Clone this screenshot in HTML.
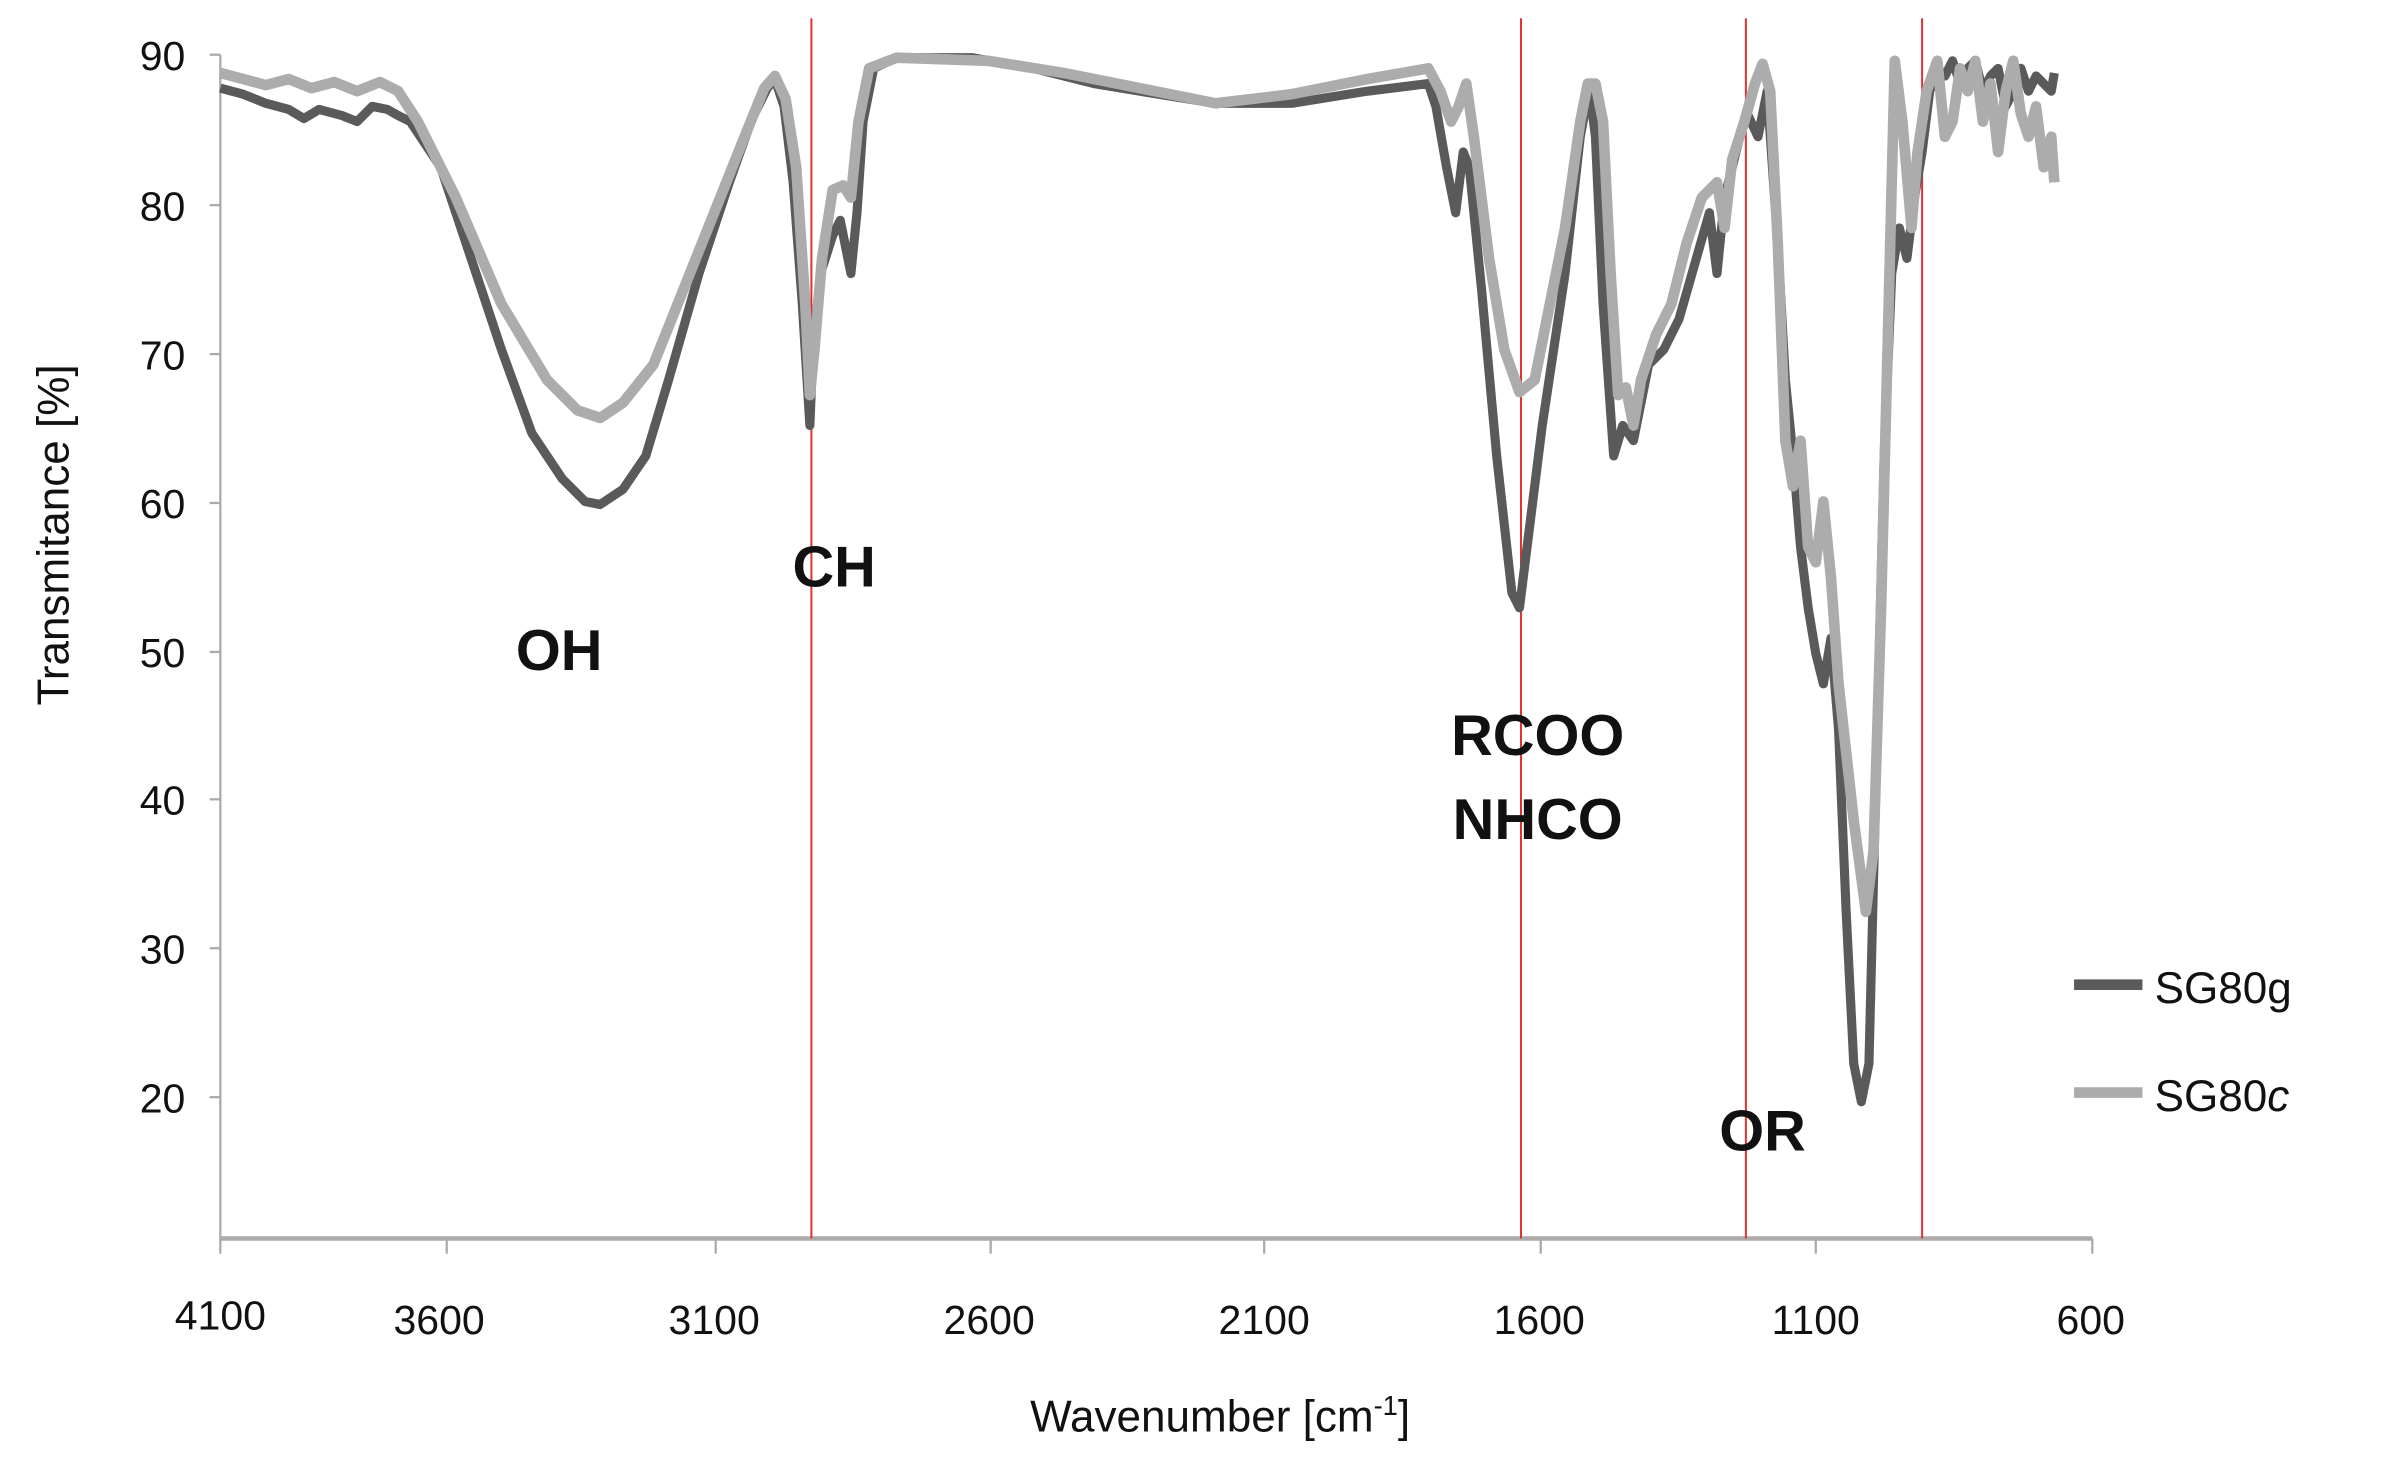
<!DOCTYPE html>
<html><head><meta charset="utf-8"><style>
html,body{margin:0;padding:0;background:#fff}
svg{display:block}
text{font-family:"Liberation Sans",sans-serif;fill:#111}
</style></head><body>
<svg width="2381" height="1471" viewBox="0 0 1567 968" preserveAspectRatio="none">
<rect width="1567" height="968" fill="#fff"/>
<!-- axes -->
<line x1="145" y1="36" x2="145" y2="815" stroke="#aaa" stroke-width="1.5"/>
<line x1="145" y1="815" x2="1377" y2="815" stroke="#aaa" stroke-width="3"/>
<g stroke="#aaa" stroke-width="1.5">
<line x1="138" y1="36" x2="145" y2="36"/><line x1="138" y1="135" x2="145" y2="135"/>
<line x1="138" y1="233" x2="145" y2="233"/><line x1="138" y1="331" x2="145" y2="331"/>
<line x1="138" y1="429" x2="145" y2="429"/><line x1="138" y1="526" x2="145" y2="526"/>
<line x1="138" y1="624" x2="145" y2="624"/><line x1="138" y1="722" x2="145" y2="722"/>
<line x1="145" y1="815" x2="145" y2="825"/><line x1="294" y1="815" x2="294" y2="825"/>
<line x1="471" y1="815" x2="471" y2="825"/><line x1="652" y1="815" x2="652" y2="825"/>
<line x1="832" y1="815" x2="832" y2="825"/><line x1="1014" y1="815" x2="1014" y2="825"/>
<line x1="1195" y1="815" x2="1195" y2="825"/><line x1="1377" y1="815" x2="1377" y2="825"/>
</g>
<g font-size="27" text-anchor="end">
<text x="122" y="46">90</text><text x="122" y="145">80</text><text x="122" y="243">70</text>
<text x="122" y="341">60</text><text x="122" y="439">50</text><text x="122" y="536">40</text>
<text x="122" y="634">30</text><text x="122" y="732">20</text>
</g>
<g font-size="27" text-anchor="middle">
<text x="145" y="875">4100</text><text x="289" y="878">3600</text><text x="470" y="878">3100</text>
<text x="651" y="878">2600</text><text x="832" y="878">2100</text><text x="1013" y="878">1600</text>
<text x="1195" y="878">1100</text><text x="1376" y="878">600</text>
</g>
<text x="803" y="942" font-size="29" text-anchor="middle">Wavenumber [cm<tspan font-size="18" dy="-11">-1</tspan><tspan dy="11">]</tspan></text>
<text transform="translate(45,352) rotate(-90)" font-size="29" text-anchor="middle">Transmitance [%]</text>
<!-- red lines -->
<g stroke="#e03030" stroke-width="1.3">
<line x1="534" y1="12" x2="534" y2="815"/><line x1="1001" y1="12" x2="1001" y2="815"/>
<line x1="1149" y1="12" x2="1149" y2="815"/><line x1="1265" y1="12" x2="1265" y2="815"/>
</g>
<!-- dark series -->
<polyline fill="none" stroke="#5a5a5a" stroke-width="6" stroke-linejoin="round" points="145,58 160,62 175,68 190,72 200,78 210,72 225,76 235,80 245,70 255,72 262,76 270,80 290,110 310,170 330,230 350,285 370,315 385,330 395,332 410,322 425,300 440,250 460,180 480,120 495,78 505,58 510,52 516,70 522,120 528,200 533,280 535,230 540,180 548,155 553,145 558,170 560,180 564,140 568,80 575,45 590,38 640,38 680,45 720,55 750,60 800,68 850,68 900,60 940,55 945,70 952,110 958,140 963,100 967,110 975,190 985,300 995,390 1000,400 1005,360 1015,280 1030,180 1040,90 1046,58 1050,90 1055,200 1062,300 1068,280 1075,290 1085,240 1095,230 1105,210 1115,175 1125,140 1130,180 1135,130 1145,90 1150,75 1157,90 1163,60 1170,160 1175,250 1180,300 1185,360 1190,400 1195,430 1200,450 1205,420 1210,480 1215,600 1220,700 1225,725 1230,700 1235,500 1240,300 1245,180 1250,150 1255,170 1260,130 1265,100 1270,60 1275,45 1280,50 1285,40 1290,55 1295,45 1300,40 1305,60 1310,50 1315,45 1320,70 1325,60 1330,45 1335,60 1340,50 1345,55 1350,60 1352,48"/>
<!-- light series -->
<polyline fill="none" stroke="#acacac" stroke-width="7" stroke-linejoin="round" points="145,48 160,52 175,56 190,52 205,58 220,54 235,60 250,54 262,60 275,80 300,130 330,200 360,250 380,270 395,275 410,265 430,240 450,190 470,140 490,90 503,58 510,50 517,65 524,110 530,200 533,260 536,230 541,170 548,125 555,122 560,130 565,80 572,45 590,38 650,40 700,48 750,58 800,68 850,62 900,52 940,45 948,60 955,80 960,70 965,55 970,90 980,170 990,230 1000,258 1010,250 1020,200 1030,150 1040,80 1045,55 1050,55 1055,80 1060,180 1065,260 1070,255 1075,280 1080,250 1090,220 1100,200 1110,160 1120,130 1130,120 1135,150 1140,105 1148,80 1155,55 1160,42 1165,60 1170,160 1175,290 1180,320 1185,290 1190,360 1195,370 1200,330 1205,380 1210,450 1220,540 1228,600 1233,560 1238,400 1243,200 1247,40 1252,80 1258,150 1262,100 1268,60 1275,40 1280,90 1285,80 1290,45 1295,60 1300,40 1305,80 1310,55 1315,100 1320,60 1325,40 1330,75 1335,90 1340,70 1345,110 1350,90 1352,120"/>
<!-- annotations -->
<g font-size="38" font-weight="bold" text-anchor="middle">
<text x="368" y="441">OH</text><text x="549" y="386">CH</text>
<text x="1012" y="497">RCOO</text><text x="1012" y="552">NHCO</text>
<text x="1160" y="757">OR</text>
</g>
<!-- legend -->
<line x1="1365" y1="648" x2="1410" y2="648" stroke="#5a5a5a" stroke-width="7"/>
<line x1="1365" y1="719" x2="1410" y2="719" stroke="#acacac" stroke-width="7"/>
<text x="1418" y="660" font-size="29">SG80g</text>
<text x="1418" y="731" font-size="29">SG80<tspan font-style="italic">c</tspan></text>
</svg>
</body></html>
